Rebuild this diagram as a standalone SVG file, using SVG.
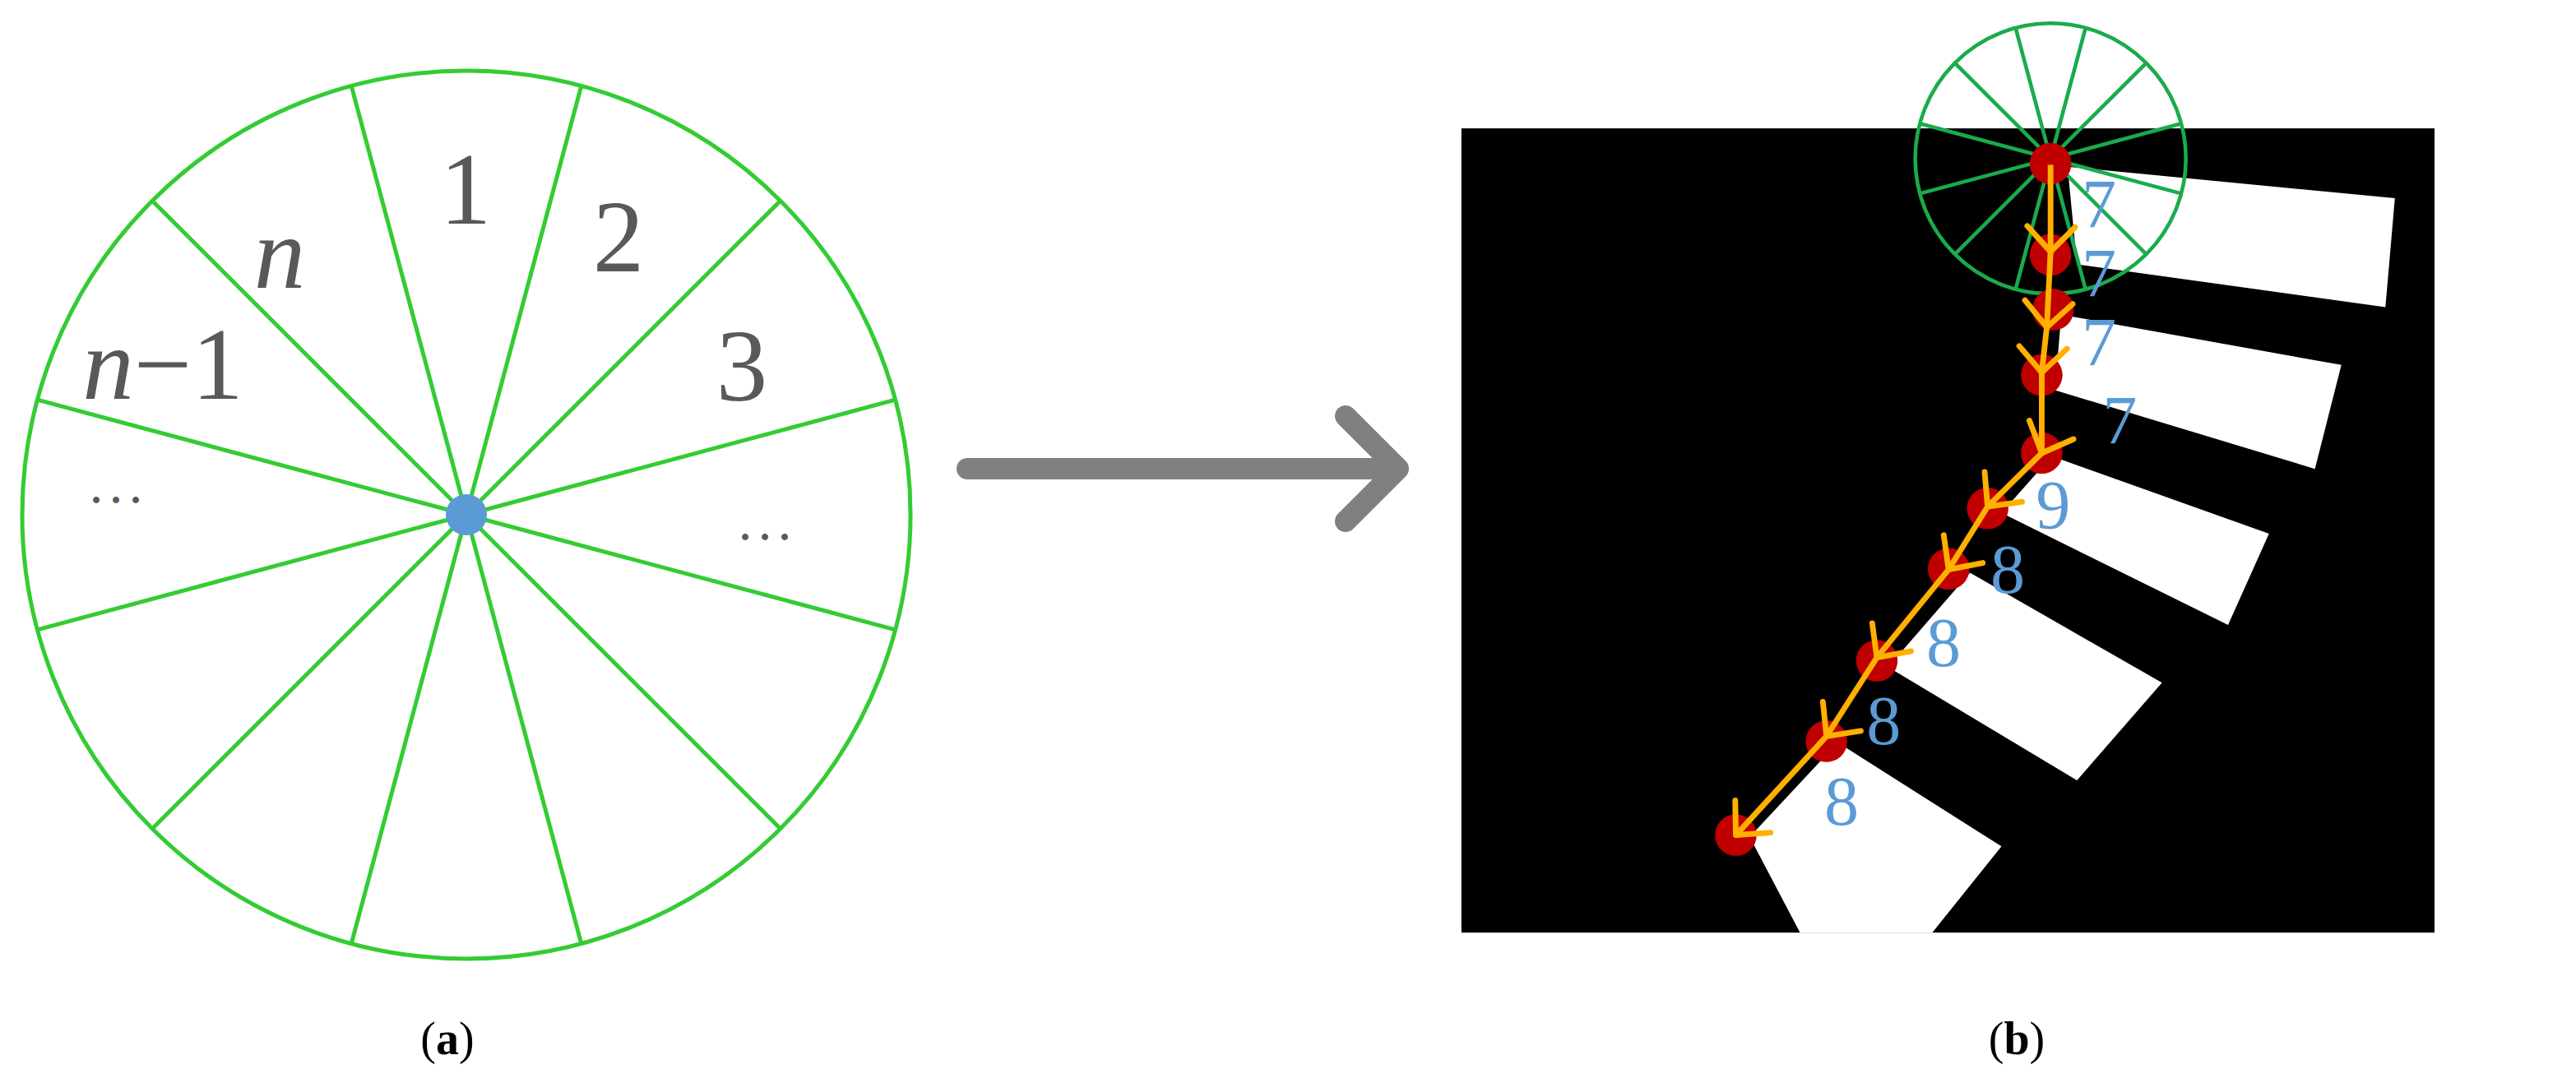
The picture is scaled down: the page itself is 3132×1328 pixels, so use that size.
<svg xmlns="http://www.w3.org/2000/svg" width="3132" height="1328" viewBox="0 0 3132 1328">
<style>
.gl{stroke:#33cc33;stroke-width:5;fill:none}
.lbl{font-family:"Liberation Serif",serif;fill:#595959;text-anchor:middle}
.gr{stroke:#1aab4b;stroke-width:6;fill:none}
.num{font-family:"Liberation Serif",serif;fill:#5b9bd5;font-size:110px;text-anchor:middle}
.rd{fill:#c00000}
.cap{font-family:"Liberation Serif",serif;font-size:56px;fill:#000;text-anchor:middle}
</style>
<defs>
<marker id="chev" markerUnits="userSpaceOnUse" viewBox="-50 -50 60 100" markerWidth="60" markerHeight="100" refX="0" refY="0" orient="auto">
<path d="M-40,-38 L0,0 L-40,38" fill="none" stroke="#ffb000" stroke-width="9" stroke-linecap="round" stroke-linejoin="round"/>
</marker>
</defs>
<rect width="3132" height="1328" fill="#fff"/>
<g id="wheel-a">
<circle class="gl" cx="567" cy="626" r="540"/>
<g class="gl">
<line x1="706.8" y1="104.4" x2="427.2" y2="1147.6"/>
<line x1="948.8" y1="244.2" x2="185.2" y2="1007.8"/>
<line x1="1088.6" y1="486.2" x2="45.4" y2="765.8"/>
<line x1="1088.6" y1="765.8" x2="45.4" y2="486.2"/>
<line x1="948.8" y1="1007.8" x2="185.2" y2="244.2"/>
<line x1="706.8" y1="1147.6" x2="427.2" y2="104.4"/>
</g>
<circle cx="567" cy="626" r="25" fill="#5b9bd5"/>
<text class="lbl" x="566" y="272" font-size="125">1</text>
<text class="lbl" x="752" y="330" font-size="125">2</text>
<text class="lbl" x="902" y="487" font-size="125">3</text>
<text class="lbl" x="340" y="350" font-size="125" font-style="italic">n</text>
<text class="lbl" x="198" y="485" font-size="125"><tspan font-style="italic">n</tspan>−1</text>
<text class="lbl" x="145" y="624" font-size="48" font-weight="bold" letter-spacing="8">···</text>
<text class="lbl" x="934" y="669" font-size="48" font-weight="bold" letter-spacing="8">···</text>
</g>
<g id="arrow">
<path d="M1176,570 L1696,570 M1636,506 L1700,570 L1636,634" fill="none" stroke="#808080" stroke-width="26" stroke-linecap="round" stroke-linejoin="round"/>
</g>
<g id="panel-b" transform="translate(1760 0) scale(0.7653)">
<rect x="22" y="204" width="1546" height="1278" fill="#000"/>
<g fill="#fff">
<polygon points="985,265 1505,315 1490,488 1000,420"/>
<polygon points="975,500 1420,580 1378,745 965,620"/>
<polygon points="960,725 1305,848 1240,993 880,815"/>
<polygon points="830,910 1135,1085 1000,1240 700,1060"/>
<polygon points="620,1180 880,1345 770,1482 560,1482 480,1330"/>
</g>
<circle class="gr" cx="958" cy="252" r="215"/>
<g class="gr">
<line x1="1013.6" y1="44.3" x2="902.4" y2="459.7"/>
<line x1="1110" y1="100" x2="806" y2="404"/>
<line x1="1165.7" y1="196.4" x2="750.3" y2="307.6"/>
<line x1="1165.7" y1="307.6" x2="750.3" y2="196.4"/>
<line x1="1110" y1="404" x2="806" y2="100"/>
<line x1="1013.6" y1="459.7" x2="902.4" y2="44.3"/>
</g>
<g class="rd">
<circle cx="958" cy="260" r="33"/>
<circle cx="958" cy="405" r="33"/>
<circle cx="962" cy="492" r="33"/>
<circle cx="944" cy="596" r="33"/>
<circle cx="944" cy="720" r="33"/>
<circle cx="858" cy="808" r="33"/>
<circle cx="796" cy="904" r="33"/>
<circle cx="682" cy="1050" r="33"/>
<circle cx="602" cy="1178" r="33"/>
<circle cx="458" cy="1327" r="33"/>
</g>
<g id="connectors">
<polyline points="958,262 958,400 952,520 944,592 944,720 858,805 796,905 682,1045 602,1170 458,1327" fill="none" stroke="#ffb000" stroke-width="9" marker-mid="url(#chev)" marker-end="url(#chev)"/>
</g>
<text class="num" x="1035" y="362">7</text>
<text class="num" x="1035" y="472">7</text>
<text class="num" x="1035" y="582">7</text>
<text class="num" x="1068" y="705">7</text>
<text class="num" x="962" y="840">9</text>
<text class="num" x="890" y="942" fill="#4a86c8">8</text>
<text class="num" x="788" y="1058">8</text>
<text class="num" x="693" y="1182" fill="#4a86c8">8</text>
<text class="num" x="626" y="1310">8</text>
</g>
<text class="cap" x="544" y="1282">(<tspan font-weight="bold">a</tspan>)</text>
<text class="cap" x="2452" y="1282">(<tspan font-weight="bold">b</tspan>)</text>
</svg>
